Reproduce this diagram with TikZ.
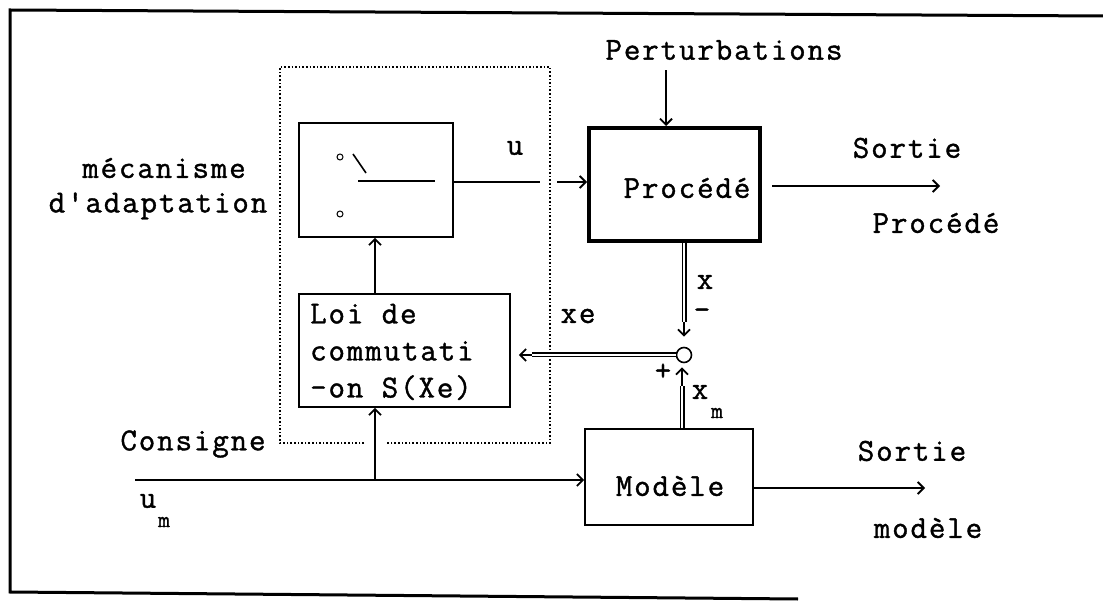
\documentclass[tikz,border=0pt]{standalone}
\usepackage{fontspec}
\usetikzlibrary{arrows.meta,calc}
\newfontfamily\cour{Latin Modern Mono}[LetterSpace=5.9,FakeBold=1.2]
\begin{document}
\begin{tikzpicture}[x=1pt,y=-1pt,
  every node/.style={font=\cour\fontsize{32}{37}\selectfont, inner sep=0pt},
  sub/.style={font=\cour\fontsize{23}{23}\selectfont},
  ln/.style={line width=1.6pt},
  arr/.style={line width=1.6pt, -{Straight Barb[length=6pt,width=12pt,line width=1.8pt]}},
  dbl/.style={double, double distance=2.6pt, line width=1.2pt},
  dots/.style={line width=1.6pt, dash pattern=on 1.6pt off 2pt},
  frame/.style={line width=3pt}
]
\useasboundingbox (0,0) rectangle (1103,601);

% outer frame
\draw[frame] (1103,16) -- (10,10) -- (10,592) -- (798,599);

% dotted adaptation box
\draw[dots] (364,443) -- (280,443) -- (280,67) -- (550,67) -- (550,443) -- (386,443);

% blocks
\node[draw, line width=1.6pt, minimum width=154pt, minimum height=114pt] (sw) at (376,180) {};
\node[draw, line width=1.6pt, minimum width=211pt, minimum height=113pt] (loi) at (404.5,350.5) {};
\node[draw, line width=4pt, minimum width=171pt, minimum height=113pt] (proc) at (674.5,184.5) {};
\node[draw, line width=1.6pt, minimum width=168pt, minimum height=96pt] (mod) at (669,477) {};
\node[draw, circle, line width=1.6pt, minimum size=15pt] (sum) at (684,355) {};

% block texts
\node (proct) at (687,188) {Procédé};
\node (modt) at (670,486) {Modèle};
\node[anchor=west, align=left] (loit) at (310,352) {Loi de\\commutati\\-on S(Xe)};

% switch symbol
\node[draw, circle, line width=1pt, minimum size=6pt] (c1) at (340,157) {};
\node[draw, circle, line width=1pt, minimum size=6pt] (c2) at (340,214) {};
\coordinate (s1) at (353,154);
\coordinate (s2) at (366,173);
\coordinate (h1) at (358,181);
\coordinate (h2) at (435,181);
\draw[ln] (s1) -- (s2);
\draw[line width=2pt] (h1) -- (h2);

% labels
\node (pert) at (724,50) {Perturbations};
\node (meca) at (164,168) {mécanisme};
\node (adap) at (158,206) {d'adaptation};
\node (u) at (515,148) {u};
\node (sortp) at (907,148) {Sortie};
\node (procr) at (936,223) {Procédé};
\node (xl) at (705,282) {x};
\node (minus) at (702,314) {-};
\node (xe) at (578,316) {xe};
\node (plus) at (663,372) {+};
\node (xm) at (700,392) {x};
\node[sub] (xmsub) at (717,413) {m};
\node (cons) at (193,444) {Consigne};
\node (um) at (148,501) {u};
\node[sub] (umsub) at (164,522) {m};
\node (sortm) at (912,451) {Sortie};
\node (modr) at (928,528) {modèle};

% coordinates for connector ends
\coordinate (pin) at (666,126);
\coordinate (ugap1) at (540,182);
\coordinate (ugap2) at (557,182);
\coordinate (pout1) at (772,186);
\coordinate (pout2) at (940,186);
\coordinate (mout2) at (925,488);
\coordinate (cstart) at (135,480);
\coordinate (branch) at (375,480);
\coordinate (xd) at (684,322);
\coordinate (xed) at (532,355);
\coordinate (xmd) at (682,386);

% connectors
\draw[arr] (pert.south -| pin) ++(0,10) -- (pin);
\draw[ln] (sw.east |- ugap1) -- (ugap1);
\draw[arr] (ugap2) -- (proc.west |- ugap2);
\draw[arr] (pout1) -- (pout2);
\draw[arr] (mod.east |- mout2) -- (mout2);
\draw[arr] (cstart) -- (mod.west |- cstart);
\draw[arr] (branch) -- (loi.south -| branch);
\draw[arr] (loi.north -| branch) -- (sw.south -| branch);

% double connectors
\draw[dbl] (proc.south -| xd) -- (xd);
\draw[arr] (xd) -- ($(sum.north)+(0,-10)$);
\draw[dbl] (sum.west) -- (xed);
\draw[arr] (xed) -- ($(loi.east)+(8,4.5)$);
\draw[dbl] (mod.north -| xmd) -- (xmd);
\draw[arr] (xmd) -- ($(sum.south)+(-2,4)$);
\end{tikzpicture}
\end{document}
